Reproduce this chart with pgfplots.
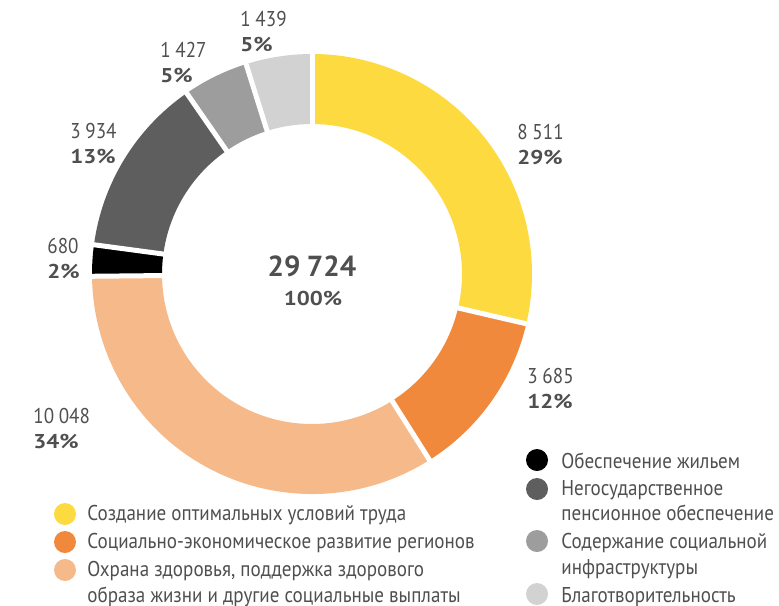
\documentclass[border=0pt]{standalone}
\usepackage{fontspec}
\setmainfont[FakeStretch=0.89]{PT Sans}
\newfontfamily\boldwide[FakeStretch=1.15]{PT Sans}
\newfontfamily\boldtotal[FakeStretch=1.0]{PT Sans}
\usepackage{pgfplots}
\pgfplotsset{compat=1.18}
\usepackage{pgfplotstable}

\definecolor{s0}{HTML}{FDDA3F}
\definecolor{s1}{HTML}{F0893B}
\definecolor{s2}{HTML}{F6B98A}
\definecolor{s3}{HTML}{000000}
\definecolor{s4}{HTML}{5E5E5E}
\definecolor{s5}{HTML}{9D9D9D}
\definecolor{s6}{HTML}{D2D2D2}
\definecolor{txt}{HTML}{4F4F4F}

% value, label position (px, y down)
\pgfplotstableread{
v     lx  ly
8511  517 132
3685  527 376
10048 33  416
680   47  246
3934  70  131
1427  160 50
1439  240 19
}\data

\pgfkeys{/pgf/number format/.cd, 1000 sep={\hspace{0.22em}}, assume math mode=true}

\begin{document}
\begin{tikzpicture}[font=\fontsize{10.7}{12.8}\selectfont, text=txt]
\pgfplotstablegetrowsof{\data}
\pgfmathtruncatemacro\nrows{\pgfplotsretval-1}
\def\total{0}
\pgfplotsforeachungrouped \i in {0,...,\nrows}{%
  \pgfplotstablegetelem{\i}{v}\of\data
  \edef\total{\the\numexpr\total+\pgfplotsretval\relax}}
\def\astart{90}
\pgfplotsforeachungrouped \i in {0,...,\nrows}{%
  \pgfplotstablegetelem{\i}{v}\of\data \let\v\pgfplotsretval
  \edef\aend{\fpeval{\astart-360*\v/\total}}
  \expandafter\xdef\csname as\i\endcsname{\astart}
  \expandafter\xdef\csname ae\i\endcsname{\aend}
  \let\astart\aend
  \expandafter\xdef\csname pc\i\endcsname{\fpeval{round(100*\v/\total)}}
  \pgfmathprintnumberto{\v}{\vs}
  \expandafter\global\expandafter\let\csname vs\i\endcsname\vs
  \pgfplotstablegetelem{\i}{lx}\of\data
  \expandafter\xdef\csname lx\i\endcsname{\pgfplotsretval}
  \pgfplotstablegetelem{\i}{ly}\of\data
  \expandafter\xdef\csname ly\i\endcsname{\pgfplotsretval}}
\pgfmathprintnumberto{\total}{\totalstr}

\begin{axis}[hide axis, x=0.5pt, y=0.5pt, xmin=0, xmax=779, ymin=0, ymax=605,
  y dir=reverse, clip=false]
  \coordinate (bl) at (axis cs:0,605);
  \coordinate (tr) at (axis cs:779,0);
  \pgfplotsinvokeforeach{0,...,6}{
    \fill[s#1] ([shift={(\csname as#1\endcsname:110pt)}]axis cs:312,274)
      arc[start angle=\csname as#1\endcsname, end angle=\csname ae#1\endcsname, radius=110pt]
      -- ([shift={(\csname ae#1\endcsname:75pt)}]axis cs:312,274)
      arc[start angle=\csname ae#1\endcsname, end angle=\csname as#1\endcsname, radius=75pt]
      -- cycle;
    \node[anchor=west, inner sep=0] at (axis cs:\csname lx#1\endcsname,\csname ly#1\endcsname) {\csname vs#1\endcsname};
    \node[anchor=west, inner sep=0, font=\boldwide\bfseries] at (axis cs:\csname lx#1\endcsname,\csname ly#1\endcsname+25) {\csname pc#1\endcsname\%};
  }
  \pgfplotsinvokeforeach{0,...,6}{
    \draw[white, line width=2.5pt] ([shift={(\csname as#1\endcsname:72pt)}]axis cs:312,274)
      -- ([shift={(\csname as#1\endcsname:113pt)}]axis cs:312,274);
  }
  \node[font=\fontsize{14.5}{16}\selectfont\boldtotal\bfseries] at (axis cs:312,266) {\totalstr};
  \node[font=\boldwide\bfseries] at (axis cs:313,298) {100\%};
  % legend
  \fill[s0] (axis cs:65,514) circle[radius=5.5pt];
  \fill[s1] (axis cs:65,542) circle[radius=5.5pt];
  \fill[s2] (axis cs:65,570) circle[radius=5.5pt];
  \fill[s3] (axis cs:537,460) circle[radius=5.5pt];
  \fill[s4] (axis cs:537,489) circle[radius=5.5pt];
  \fill[s5] (axis cs:537,541) circle[radius=5.5pt];
  \fill[s6] (axis cs:537,594) circle[radius=5.5pt];
  \node[anchor=west, inner sep=0] at (axis cs:87,515) {Создание оптимальных условий труда};
  \node[anchor=west, inner sep=0] at (axis cs:87,543) {Социально-экономическое развитие регионов};
  \node[anchor=north west, inner sep=0, align=left] at (axis cs:87,561) {Охрана здоровья, поддержка здорового\\образа жизни и другие социальные выплаты};
  \node[anchor=west, inner sep=0] at (axis cs:561,461) {Обеспечение жильем};
  \node[anchor=north west, inner sep=0, align=left] at (axis cs:561,480) {Негосударственное\\пенсионное обеспечение};
  \node[anchor=north west, inner sep=0, align=left] at (axis cs:561,533) {Содержание социальной\\инфраструктуры};
  \node[anchor=west, inner sep=0] at (axis cs:561,597) {Благотворительность};
\end{axis}
\pgfresetboundingbox
\path[use as bounding box] (bl) rectangle (tr);
\end{tikzpicture}
\end{document}
